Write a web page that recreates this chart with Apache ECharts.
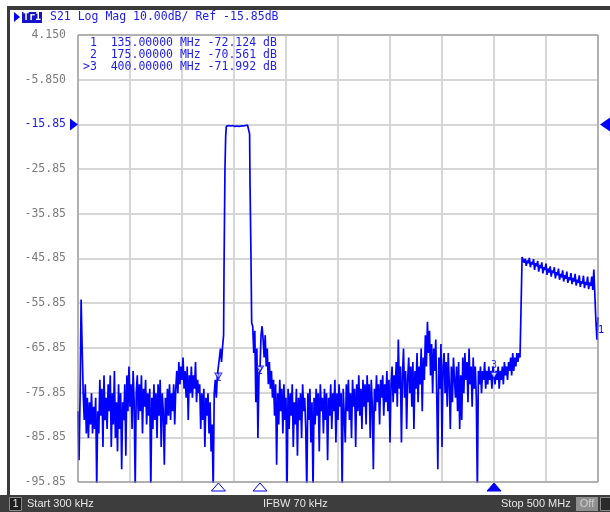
<!DOCTYPE html>
<html>
<head>
<meta charset="utf-8">
<script src="https://cdn.jsdelivr.net/npm/echarts@6/dist/echarts.min.js"></script>
<style>
html, body { margin: 0; padding: 0; background: #fff; }
#main { width: 610px; height: 512px; }
</style>
</head>
<body>
<div id="main"></div>
<script>
// sweep: 300 kHz .. 500 MHz, S21 log mag, 10 dB/div, ref -15.85 dB
var yTickLabels = ['-95.85', '-85.85', '-75.85', '-65.85', '-55.85', '-45.85', '-35.85', '-25.85', '-15.85', '-5.850', '4.150'];
var refLevel = -15.85;

// stopband below the filter, 0..139 MHz, 1 MHz step
var lowStart = 0;
var lowNoise = [
    -80, -91, -77, -55, -66, -76, -82, -74, -85, -77,
    -86, -78, -83, -76, -85, -79, -84, -77, -97, -80,
    -85, -73, -81, -75, -88, -72, -82, -77, -84, -74,
    -80, -72, -88, -76, -83, -71, -86, -78, -89, -74,
    -84, -76, -93, -78, -82, -74, -90, -72, -80, -70,
    -79, -74, -84, -71, -78, -97, -76, -72, -82, -74,
    -80, -72, -85, -75, -79, -73, -83, -76, -81, -75,
    -98, -77, -84, -74, -82, -76, -86, -74, -81, -73,
    -88, -76, -80, -92, -77, -83, -75, -81, -74, -82,
    -76, -80, -74, -83, -75, -71, -76, -69, -74, -70,
    -73, -68, -75, -71, -77, -70, -82, -72, -76, -70,
    -77, -72, -75, -69, -78, -73, -76, -74, -84, -76,
    -82, -75, -88, -77, -81, -76, -85, -78, -89, -83,
    -98, -76, -73, -77, -72, -72.1, -68, -66, -69, -65.6
];

// filter passband
var passFreq = [140.0, 140.4, 141.3, 142.0, 142.6, 143.3, 145, 147, 149, 151, 153, 155, 157, 159, 161, 163, 164.4, 165.0, 165.4, 166.3, 167.0];
var passDb = [-63, -48.4, -26, -18.5, -16.3, -15.9, -16.1, -16.2, -16.1, -16.3, -16.2, -16.3, -16.2, -16.2, -16.1, -16.0, -15.9, -18, -29, -45, -60.3];

// stopband above the filter, 168..425 MHz, 1 MHz step
var midStart = 168;
var midNoise = [
    -61, -67, -62, -78, -66, -86, -72, -70.6, -63, -61,
    -64, -68, -63, -70, -66, -74, -69, -75, -71, -77,
    -73, -81, -74, -92, -76, -83, -73, -80, -75, -85,
    -74, -82, -77, -98, -75, -84, -76, -81, -74, -88,
    -78, -83, -75, -90, -77, -82, -76, -86, -74, -80,
    -77, -84, -98, -76, -82, -75, -87, -78, -98, -77,
    -83, -75, -81, -76, -89, -74, -80, -77, -85, -75,
    -82, -76, -91, -77, -81, -74, -84, -76, -80, -73,
    -87, -76, -82, -74, -79, -76, -98, -75, -81, -87,
    -74, -80, -73, -82, -76, -86, -73, -79, -75, -88,
    -74, -80, -72, -81, -75, -84, -73, -79, -74, -83,
    -72, -78, -74, -86, -73, -79, -93, -75, -80, -72,
    -78, -74, -83, -73, -77, -72, -81, -74, -78, -71,
    -80, -73, -87, -74, -70, -78, -72, -76, -69, -79,
    -64, -75, -70, -87, -72, -66, -77, -71, -84, -73,
    -68, -76, -70, -79, -69, -84, -71, -75, -67, -78,
    -70, -74, -66, -80, -68, -73, -63, -70, -60, -67,
    -62, -72, -65, -76, -66, -71, -64, -77, -93, -68,
    -75, -65, -88, -70, -67, -76, -69, -79, -67, -74,
    -84, -70, -78, -68, -73, -77, -70, -80, -69, -84,
    -72, -82, -68, -76, -67, -73, -69, -78, -66, -74,
    -70, -79, -68, -75, -70, -77, -98, -71, -74, -70,
    -76, -71, -73, -69, -75, -71, -74, -70, -73, -71,
    -75, -70, -72, -74, -71, -73, -70, -75, -71, -73,
    -70, -74, -69, -72, -70, -73, -69, -71, -68, -72,
    -67, -71, -68, -70, -67, -69, -67, -68
];

// spurious band at the top end, 426..500 MHz, 1 MHz step
var highStart = 426;
var highBand = [
    -57, -45.5, -45.2, -46.8, -45.9, -47.5, -46.3, -46.9, -45.7, -47.8,
    -46.6, -47.2, -46.0, -48.4, -46.9, -47.6, -46.4, -48.8, -47.3, -48.0,
    -46.7, -49.2, -47.8, -48.4, -47.0, -49.5, -48.1, -49.0, -47.6, -49.9,
    -48.5, -49.1, -47.8, -50.3, -48.9, -49.6, -48.1, -50.6, -49.3, -50.1,
    -48.5, -51.0, -49.6, -50.4, -48.8, -51.3, -50.0, -50.7, -49.1, -51.6,
    -50.2, -51.0, -49.3, -51.9, -50.6, -51.3, -49.6, -52.2, -50.9, -51.5,
    -49.7, -52.5, -51.1, -51.8, -49.9, -52.7, -51.2, -52.0, -49.9, -52.9,
    -48.3, -48.0, -60, -64, -59
];

// markers
var markerNames = ['1', '2', '3'];
var markerFreq = [135, 175, 400];
var markerDb = [-72.124, -70.561, -71.992];
var activeMarker = 2;

var BLUE = '#0000ff';
var TXT_BLUE = '#1c1cf0';
var MONO = '"DejaVu Sans Mono", "Liberation Mono", monospace';
var SANS = '11px "Liberation Sans", sans-serif';

function stepped(start, values) {
    return values.map(function (v, i) { return [start + i, v]; });
}

var trace = []
    .concat(stepped(lowStart, lowNoise))
    .concat(passFreq.map(function (f, i) { return [f, passDb[i]]; }))
    .concat(stepped(midStart, midNoise))
    .concat(stepped(highStart, highBand));

var myChart = echarts.init(document.getElementById('main'), null, { renderer: 'canvas' });

myChart.setOption({
    animation: false,
    backgroundColor: '#ffffff',
    grid: { left: 78, top: 35, width: 520, height: 447, show: false },
    xAxis: {
        type: 'value', min: 0, max: 500, interval: 50,
        axisLine: { show: false },
        axisTick: { show: false },
        axisLabel: { show: false },
        splitLine: { show: true, lineStyle: { color: '#d6d6d6', width: 2 } }
    },
    yAxis: {
        type: 'value', min: -95.85, max: 4.15, interval: 10,
        axisLine: { show: false },
        axisTick: { show: false },
        axisLabel: {
            margin: 12,
            fontFamily: MONO,
            fontSize: 11.5,
            color: function (v, i) {
                return Math.abs(v - refLevel) < 0.01 ? TXT_BLUE : '#7c7c7c';
            },
            formatter: function (v, i) { return yTickLabels[i]; }
        },
        splitLine: { show: true, lineStyle: { color: '#d6d6d6', width: 2 } }
    },
    series: [{
        type: 'line',
        data: trace,
        showSymbol: false,
        sampling: null,
        clip: true,
        lineStyle: { color: BLUE, width: 1.7 },
        z: 3
    }, {
        type: 'scatter',
        data: markerFreq.map(function (f, i) { return [f, markerDb[i]]; }),
        symbol: 'triangle',
        symbolRotate: 180,
        symbolSize: [7, 6],
        itemStyle: { color: '#ffffff', borderColor: BLUE, borderWidth: 1 },
        label: {
            show: true,
            color: BLUE,
            fontFamily: MONO,
            fontSize: 10,
            distance: 1,
            position: 'top',
            formatter: function (p) { return markerNames[p.dataIndex]; }
        },
        labelLayout: function (p) {
            return p.dataIndex === activeMarker ? {} : { dy: 12 };
        },
        z: 4
    }]
});

// decorations placed through the axes
var refY = myChart.convertToPixel({ yAxisIndex: 0 }, refLevel);
var g = [];

// plot frame
g.push({ type: 'rect', shape: { x: 78, y: 35, width: 520, height: 447 }, style: { fill: null, stroke: '#8c8c8c', lineWidth: 1 }, z: 5 });

// window frame
g.push({ type: 'rect', shape: { x: 7, y: 6, width: 603, height: 4 }, style: { fill: '#3a3a3a' }, z: 6 });
g.push({ type: 'rect', shape: { x: 7, y: 6, width: 3, height: 490 }, style: { fill: '#3a3a3a' }, z: 6 });

// header
g.push({ type: 'polygon', shape: { points: [[14, 12], [20, 17], [14, 22]] }, style: { fill: BLUE }, z: 6 });
g.push({ type: 'rect', shape: { x: 22, y: 12, width: 20, height: 11 }, style: { fill: '#1414c8' }, z: 6 });
g.push({ type: 'text', x: 32, y: 17.5, style: { text: 'Tr1', fill: '#ffffff', font: 'bold 10px ' + MONO, align: 'center', verticalAlign: 'middle' }, z: 7 });
g.push({ type: 'text', x: 50, y: 17.5, style: { text: 'S21 Log Mag 10.00dB/ Ref ' + refLevel.toFixed(2) + 'dB', fill: TXT_BLUE, font: '11.5px ' + MONO, verticalAlign: 'middle' }, z: 6 });

// marker table
markerNames.forEach(function (n, i) {
    var line = (i === activeMarker ? '>' : ' ') + n + '  ' + markerFreq[i].toFixed(5) + ' MHz ' + markerDb[i].toFixed(3) + ' dB';
    g.push({ type: 'text', x: 83, y: 43.5 + i * 11.8, style: { text: line, fill: TXT_BLUE, font: '11.5px ' + MONO, verticalAlign: 'middle' }, z: 6 });
});

// reference level arrows
g.push({ type: 'polygon', shape: { points: [[70, refY - 6], [78, refY], [70, refY + 6]] }, style: { fill: BLUE }, z: 6 });
g.push({ type: 'polygon', shape: { points: [[610, refY - 7], [600, refY], [610, refY + 7]] }, style: { fill: BLUE }, z: 6 });

// trace end label
g.push({ type: 'text', x: 598, y: 330, style: { text: '1', fill: BLUE, font: '10px ' + MONO, verticalAlign: 'middle' }, z: 6 });

// marker stimulus arrows under the grid
markerFreq.forEach(function (f, i) {
    var x = myChart.convertToPixel({ xAxisIndex: 0 }, f);
    g.push({
        type: 'polygon',
        shape: { points: [[x - 7, 491], [x, 483], [x + 7, 491]] },
        style: { fill: i === activeMarker ? BLUE : '#ffffff', stroke: BLUE, lineWidth: 1 },
        z: 6
    });
});

// status bar
g.push({ type: 'rect', shape: { x: 0, y: 495, width: 610, height: 17 }, style: { fill: '#3d3d3d' }, z: 6 });
g.push({ type: 'rect', shape: { x: 9.5, y: 497.5, width: 12, height: 13 }, style: { fill: '#1e1e1e', stroke: '#8a8a8a', lineWidth: 1 }, z: 7 });
g.push({ type: 'text', x: 15.5, y: 504, style: { text: '1', fill: '#e6e6e6', font: SANS, align: 'center', verticalAlign: 'middle' }, z: 8 });
g.push({ type: 'text', x: 27, y: 504, style: { text: 'Start 300 kHz', fill: '#e6e6e6', font: SANS, verticalAlign: 'middle' }, z: 8 });
g.push({ type: 'text', x: 263, y: 504, style: { text: 'IFBW 70 kHz', fill: '#e6e6e6', font: SANS, verticalAlign: 'middle' }, z: 8 });
g.push({ type: 'text', x: 501, y: 504, style: { text: 'Stop 500 MHz', fill: '#e6e6e6', font: SANS, verticalAlign: 'middle' }, z: 8 });
g.push({ type: 'rect', shape: { x: 576, y: 497, width: 22, height: 14 }, style: { fill: '#8e8e8e' }, z: 7 });
g.push({ type: 'text', x: 587, y: 504, style: { text: 'Off', fill: '#cfcfcf', font: SANS, align: 'center', verticalAlign: 'middle' }, z: 8 });
g.push({ type: 'rect', shape: { x: 600.5, y: 497.5, width: 10, height: 13 }, style: { fill: '#2a2a2a', stroke: '#8a8a8a', lineWidth: 1 }, z: 7 });

myChart.setOption({ graphic: g });
</script>
</body>
</html>
